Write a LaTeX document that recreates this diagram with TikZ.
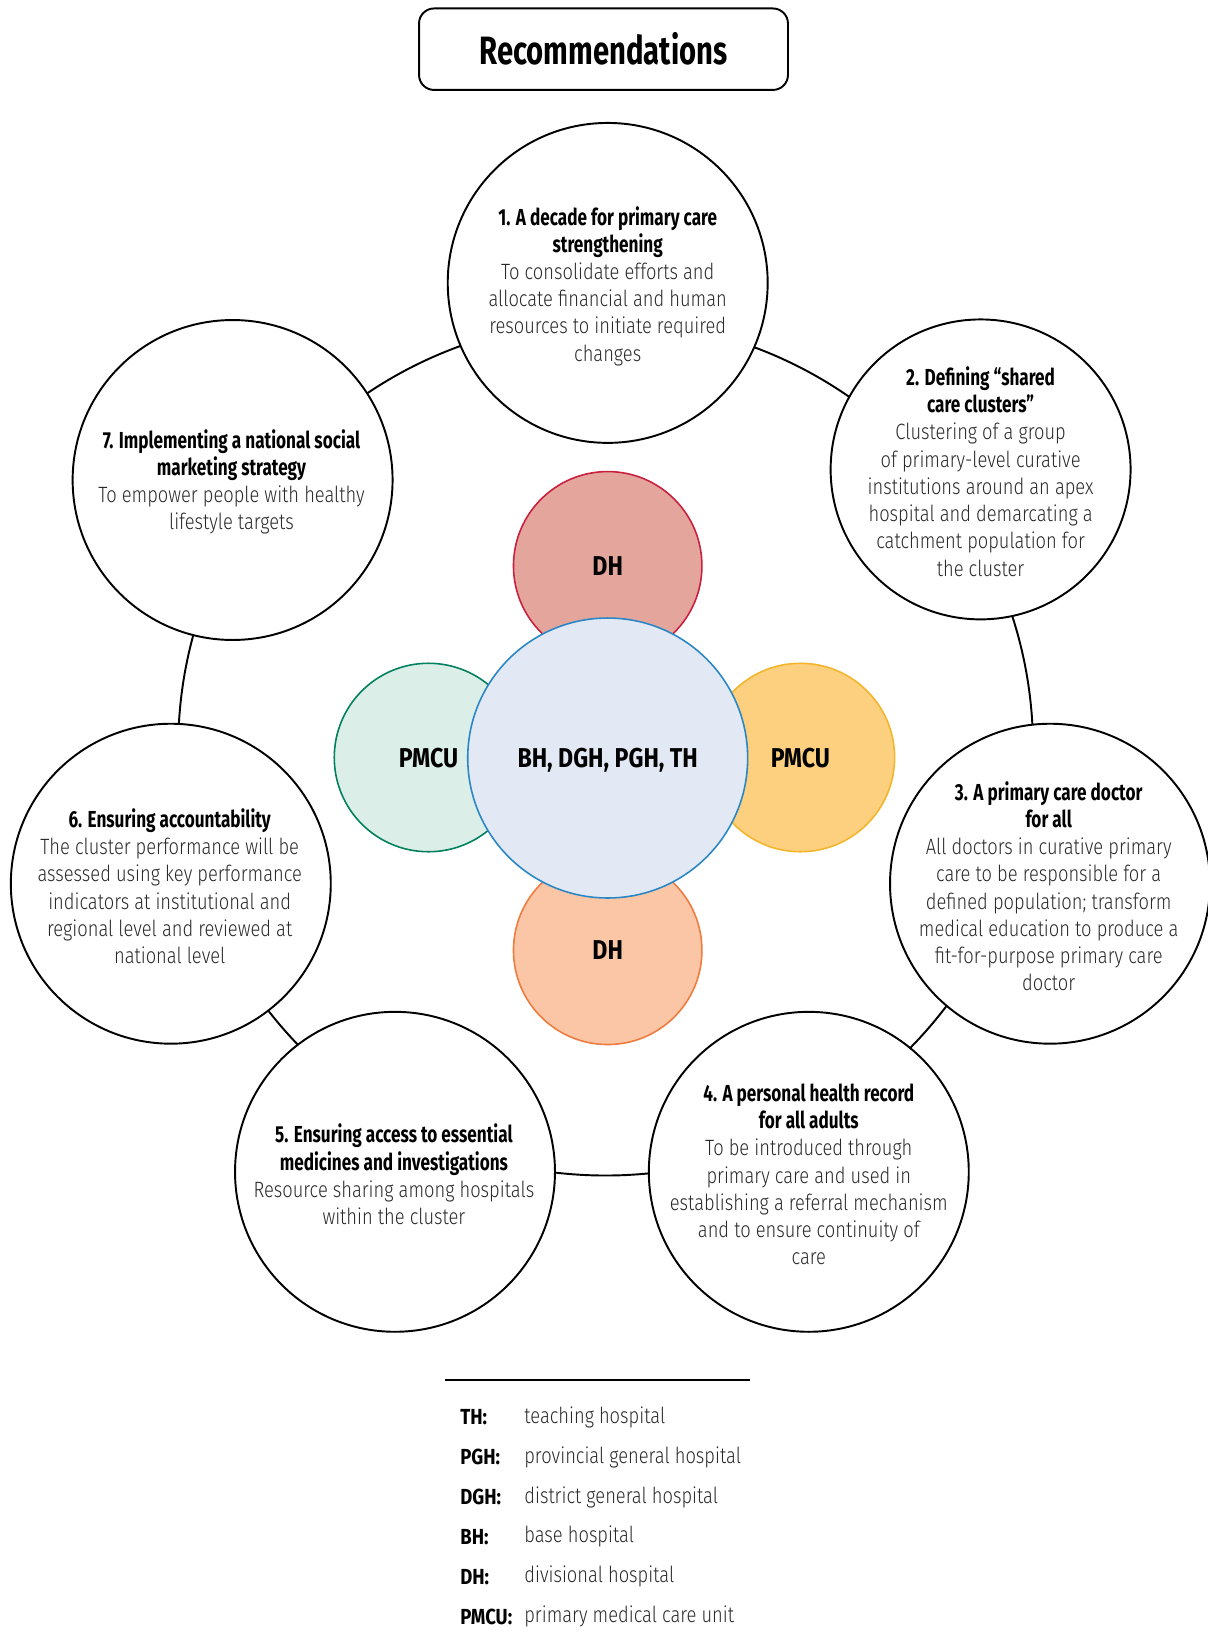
\documentclass[tikz,border=0pt]{standalone}
\usepackage{fontspec}
\setmainfont{Fira Sans}
\newfontfamily\condf{Fira Sans}[FakeStretch=0.74]
\newfontfamily\hubf{Fira Sans}[FakeStretch=0.85]
\newfontfamily\lightf{Fira Sans Light}[FakeStretch=0.827]
\definecolor{dhtf}{HTML}{E3A59C}\definecolor{dhtd}{HTML}{C8203E}
\definecolor{dhbf}{HTML}{FBC6A5}\definecolor{dhbd}{HTML}{F07B3F}
\definecolor{pmlf}{HTML}{DBEFE8}\definecolor{pmld}{HTML}{00805C}
\definecolor{pmrf}{HTML}{FDD07F}\definecolor{pmrd}{HTML}{F2B52B}
\definecolor{ctrf}{HTML}{E2E8F4}\definecolor{ctrd}{HTML}{2A87C5}
\definecolor{bodygray}{HTML}{2A2A2A}
\newcommand\hd[1]{{\condf\bfseries\fontsize{13.2}{15.5}\selectfont #1}}
\newcommand\bd[1]{{\lightf\color{bodygray}#1}}
\tikzset{
  rec/.style={circle,draw=black,fill=white,line width=1.1pt,inner sep=0pt,minimum size=6.4cm},
  rectext/.style={align=center,inner sep=0pt,font=\fontsize{12.6}{15.5}\selectfont},
  hub/.style={circle,line width=0.9pt,inner sep=0pt,minimum size=3.77cm,text depth=0pt,
    font=\hubf\bfseries\fontsize{15.5}{17}\selectfont},
  legab/.style={anchor=west,inner sep=0pt,font=\hubf\bfseries\fontsize{12.4}{15}\selectfont},
  legdef/.style={anchor=west,inner sep=0pt,font=\lightf\color{bodygray}\fontsize{12.6}{15}\selectfont}
}
\begin{document}
\begin{tikzpicture}[x=0.02cm,y=-0.02cm]
\useasboundingbox (0,0) rectangle (1207,1643);
% title
\node[draw=black,line width=1.1pt,rounded corners=0.3cm,minimum width=7.38cm,minimum height=1.63cm,
  font=\condf\bfseries\fontsize{22.5}{24}\selectfont] (title) at (603.5,49.2) {Recommendations};
% ring
\node[circle,draw=black,line width=1.1pt,minimum size=17.1cm,inner sep=0pt] (ring) at (605.6,748.1) {};
% recommendation circles
\node[rec] (c1) at (607.7,282.9) {};
\node[rec,minimum size=6.0cm] (c2) at (980.6,469.4) {};
\node[rec] (c3) at (1050,883.7) {};
\node[rec] (c4) at (808.8,1171.8) {};
\node[rec] (c5) at (395,1171.8) {};
\node[rec] (c6) at (170.8,883.7) {};
\node[rec] (c7) at (232.6,480) {};
\node[rectext] (t1) at (607.7,286) {\hd{1. A decade for primary care}\\\hd{strengthening}\\
  \bd{To consolidate efforts and}\\\bd{allocate financial and human}\\\bd{resources to initiate required}\\\bd{changes}};
\node[rectext] (t2) at (980.6,471.4) {\hd{2. Defining “shared}\\\hd{care clusters”}\\
  \bd{Clustering of a group}\\\bd{of primary-level curative}\\\bd{institutions around an apex}\\\bd{hospital and demarcating a}\\\bd{catchment population for}\\\bd{the cluster}};
\node[rectext] (t3) at (1048.7,886.3) {\hd{3. A primary care doctor}\\\hd{for all}\\
  \bd{All doctors in curative primary}\\\bd{care to be responsible for a}\\\bd{defined population; transform}\\\bd{medical education to produce a}\\\bd{fit-for-purpose primary care}\\\bd{doctor}};
\node[rectext] (t4) at (808.8,1174.4) {\hd{4. A personal health record}\\\hd{for all adults}\\
  \bd{To be introduced through}\\\bd{primary care and used in}\\\bd{establishing a referral mechanism}\\\bd{and to ensure continuity of}\\\bd{care}};
\node[rectext] (t5) at (393.9,1174.4) {\hd{5. Ensuring access to essential}\\\hd{medicines and investigations}\\
  \bd{Resource sharing among hospitals}\\\bd{within the cluster}};
\node[rectext] (t6) at (169.7,886.3) {\hd{6. Ensuring accountability}\\
  \bd{The cluster performance will be}\\\bd{assessed using key performance}\\\bd{indicators at institutional and}\\\bd{regional level and reviewed at}\\\bd{national level}};
\node[rectext] (t7) at (231.5,482) {\hd{7. Implementing a national social}\\\hd{marketing strategy}\\
  \bd{To empower people with healthy}\\\bd{lifestyle targets}};
% hub
\node[hub,draw=dhtd,fill=dhtf] (dht) at (607.7,565.8) {DH};
\node[hub,draw=dhbd,fill=dhbf] (dhb) at (607.7,950.3) {DH};
\node[hub,draw=pmld,fill=pmlf] (pml) at (428.5,757.5) {PMCU};
\node[hub,draw=pmrd,fill=pmrf] (pmr) at (800.4,757.5) {PMCU};
\node[hub,draw=ctrd,fill=ctrf,minimum size=5.6cm] (ctr) at (607.7,758) {BH, DGH, PGH, TH};
% legend
\coordinate (la) at (445,1380);
\coordinate (lb) at (750,1380);
\draw[line width=0.7pt] (la) -- (lb);
\node[legab] (a1) at (460,1417.5) {TH:};
\node[legab] (a2) at (460,1457.3) {PGH:};
\node[legab] (a3) at (460,1497) {DGH:};
\node[legab] (a4) at (460,1536.8) {BH:};
\node[legab] (a5) at (460,1576.7) {DH:};
\node[legab] (a6) at (460,1616.5) {PMCU:};
\node[legdef] (d1) at (524,1417.5) {teaching hospital};
\node[legdef] (d2) at (524,1457.3) {provincial general hospital};
\node[legdef] (d3) at (524,1497) {district general hospital};
\node[legdef] (d4) at (524,1536.8) {base hospital};
\node[legdef] (d5) at (524,1576.7) {divisional hospital};
\node[legdef] (d6) at (524,1616.5) {primary medical care unit};
\end{tikzpicture}
\end{document}
